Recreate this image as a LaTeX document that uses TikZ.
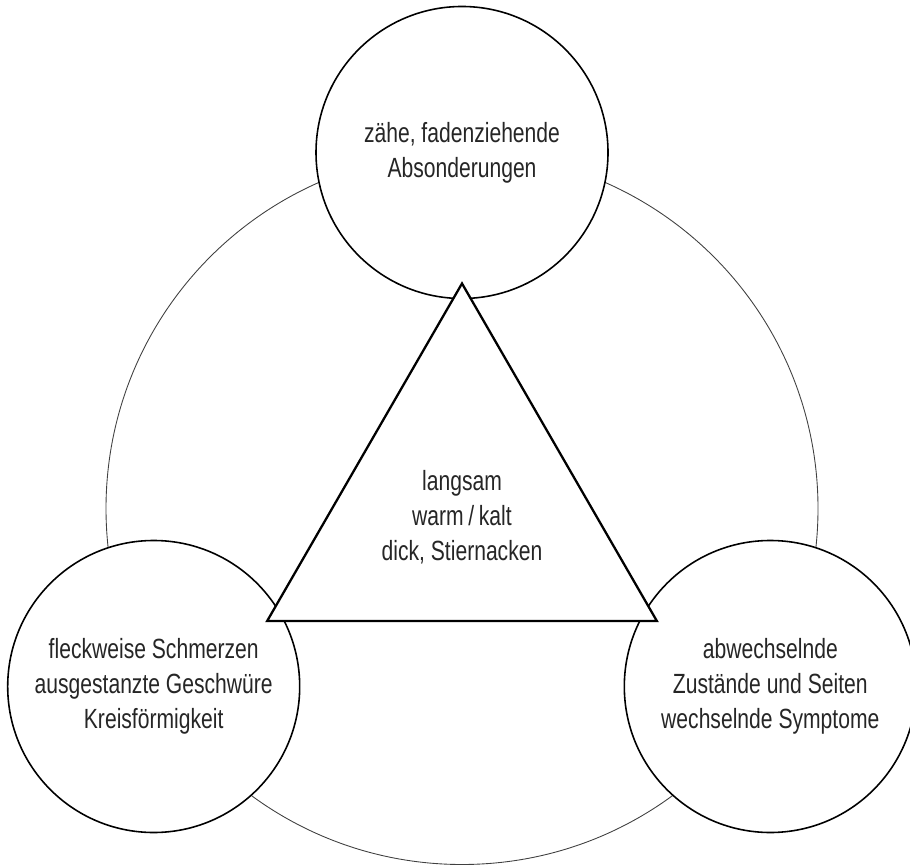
\documentclass[tikz,border=0pt]{standalone}
\usepackage{fontspec}
\setmainfont[FakeStretch=0.76]{Liberation Sans}
\usetikzlibrary{calc}
\tikzset{
  bubble/.style={circle, draw=black, line width=0.45pt, fill=white, minimum size=2.92cm, inner sep=0pt, align=center, text=black!85, font=\fontsize{7.9}{10}\selectfont},
  ring/.style={draw=black!75, line width=0.25pt},
  label text/.style={align=center, text=black!85, font=\fontsize{7.9}{10}\selectfont}
}
\begin{document}
\begin{tikzpicture}[scale=1]
\useasboundingbox (0,0) rectangle (9.1,8.66);
\coordinate (O) at (4.62,3.575);
\draw[ring] (O) circle (3.56);

\node[bubble] (top) at ($(O)+(90:3.56)$) {zähe, fadenziehende\\Absonderungen};
\node[bubble] (left) at ($(O)+(210:3.56)$) {fleckweise Schmerzen\\ausgestanzte Geschwüre\\Kreisförmigkeit};
\node[bubble] (right) at ($(O)+(330:3.56)$) {abwechselnde\\Zustände und Seiten\\wechselnde Symptome};

\coordinate (A) at ($(O)+(90:2.25)$);
\coordinate (B) at ($(O)+(210:2.25)$);
\coordinate (C) at ($(O)+(330:2.25)$);
\draw[black, line width=0.65pt, fill=white] (A)--(B)--(C)--cycle;

\node[label text] (mid) at ($(O)+(0,-0.085)$) {langsam\\warm\,/\,kalt\\dick, Stiernacken};
\end{tikzpicture}
\end{document}
